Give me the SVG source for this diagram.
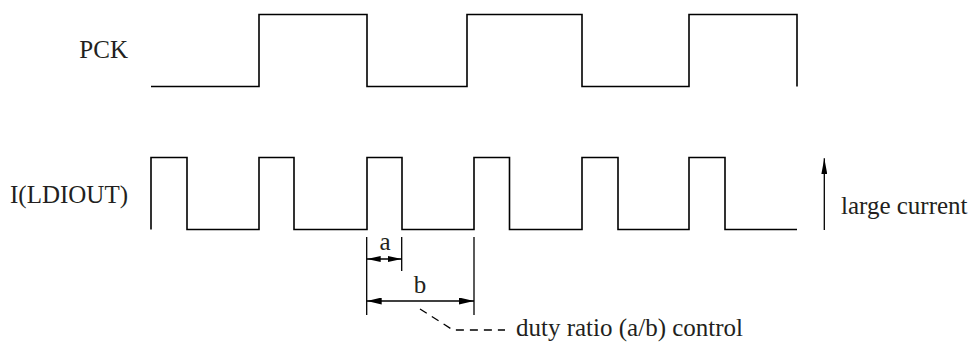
<svg xmlns="http://www.w3.org/2000/svg" width="970" height="342" viewBox="0 0 970 342">
  <style>
    .wave { fill: none; stroke: #000; stroke-width: 1.6; stroke-linejoin: miter; stroke-linecap: butt; }
    .dim { fill: none; stroke: #000; stroke-width: 1.3; }
    .lead { fill: none; stroke: #000; stroke-width: 1.3; stroke-dasharray: 8 6; }
    .lbl { font-family: "Liberation Serif", "Times New Roman", serif; font-size: 25px; fill: #231f20; }
  </style>
  <defs>
    <marker id="ahS" viewBox="0 0 14 6" refX="14" refY="3" markerWidth="14" markerHeight="6" markerUnits="userSpaceOnUse" orient="auto-start-reverse">
      <path d="M0,0 L14,3 L0,6 Z" fill="#000"/>
    </marker>
    <marker id="ahB" viewBox="0 0 15 7" refX="15" refY="3.5" markerWidth="15" markerHeight="7" markerUnits="userSpaceOnUse" orient="auto-start-reverse">
      <path d="M0,0 L15,3.5 L0,7 Z" fill="#000"/>
    </marker>
    <marker id="ahU" viewBox="0 0 16 6" refX="16" refY="3" markerWidth="16" markerHeight="6" markerUnits="userSpaceOnUse" orient="auto">
      <path d="M0,0 L16,3 L0,6 Z" fill="#000"/>
    </marker>
  </defs>

  <g id="pck">
    <text class="lbl" x="128" y="58" text-anchor="end">PCK</text>
    <path class="wave" d="M151,86.5 H259 V14.5 H367 V86.5 H467 V14.5 H582 V86.5 H689 V14.5 H797 V86.5"/>
  </g>

  <g id="ldiout">
    <text class="lbl" x="128" y="203" text-anchor="end">I(LDIOUT)</text>
    <path class="wave" d="M151,229.5 V157.5 H187 V229.5 H259 V157.5 H294 V229.5 H367 V157.5 H402 V229.5 H474 V157.5 H509.5 V229.5 H582 V157.5 H618 V229.5 H689 V157.5 H725 V229.5 H797"/>
  </g>

  <g id="large-current">
    <line class="dim" x1="824.3" y1="230" x2="824.3" y2="158.3" marker-end="url(#ahU)"/>
    <text class="lbl" x="841" y="214">large current</text>
  </g>

  <g id="connectors">
    <g id="dim-a">
      <line class="dim" x1="366.7" y1="237" x2="366.7" y2="315"/>
      <line class="dim" x1="401.7" y1="237" x2="401.7" y2="271"/>
      <line class="dim" x1="366.7" y1="259" x2="401.7" y2="259" marker-start="url(#ahS)" marker-end="url(#ahS)"/>
      <text class="lbl" x="385" y="250" text-anchor="middle">a</text>
    </g>
    <g id="dim-b">
      <line class="dim" x1="474" y1="237" x2="474" y2="315"/>
      <line class="dim" x1="366.7" y1="301" x2="474" y2="301" marker-start="url(#ahB)" marker-end="url(#ahB)"/>
      <text class="lbl" x="420" y="293" text-anchor="middle">b</text>
    </g>
    <g id="leader">
      <path class="lead" d="M420,309 L453,330 L505,330"/>
      <text class="lbl" x="516" y="336">duty ratio (a/b) control</text>
    </g>
  </g>
</svg>
